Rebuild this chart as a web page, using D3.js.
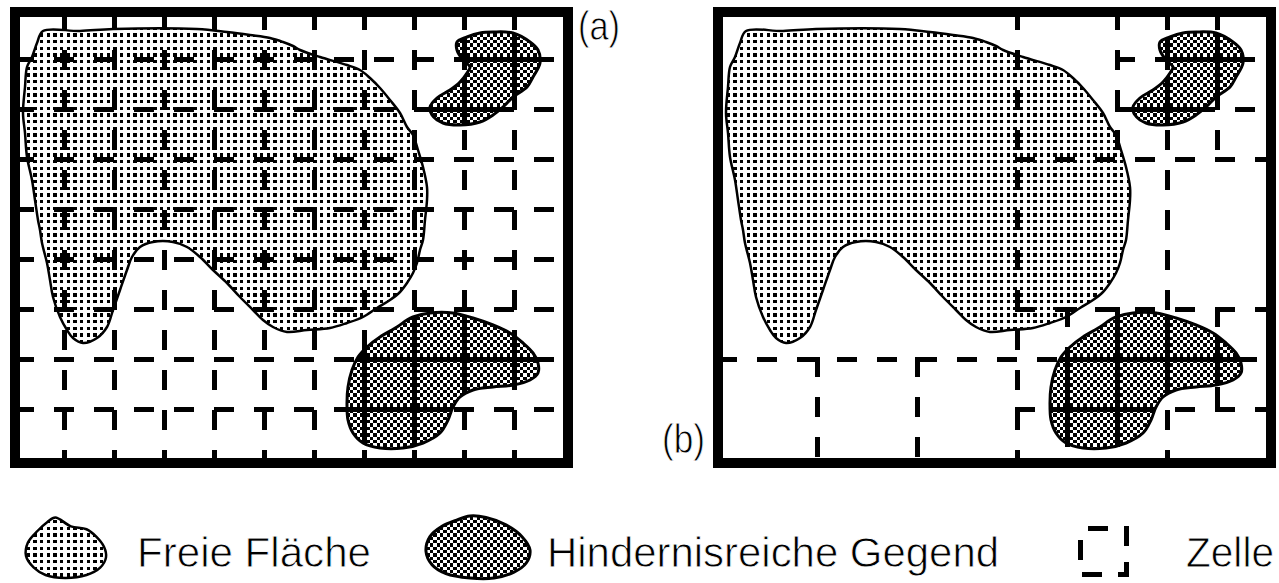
<!DOCTYPE html>
<html><head><meta charset="utf-8">
<script src="https://cdn.jsdelivr.net/npm/d3@7"></script>
<style>html,body{margin:0;padding:0;background:#fff;}svg{display:block}</style>
</head><body>
<svg id="chart" width="1279" height="583"></svg>
<script>
// ---------- data (panel-relative pixel units) ----------
const colLines = [0,1,2,3,4,5,6,7,8,9];   // vertical grid line indices
const rowLines = [0,1,2,3,4,5,6,7];       // horizontal grid line indices
// panel (b): adaptive cells -> [direction, line index, from, to]
const cellSegmentsB = [
  ["h",6,"L","R"],["h",2,5,"R"],["h",0,7,"R"],["h",1,7,"R"],["h",5,5,"R"],["h",7,5,"R"],
  ["v",5,"T","B"],["v",1,6,"B"],["v",3,6,"B"],["v",7,"T",2],["v",8,"T","B"],
  ["v",9,"T",2],["v",9,5,7],["v",6,5,"B"],["v",7,5,"B"]
];
const freeArea = [[23,14],[60,14],[93,12],[177,12],[207,15],[230,18],[250,21],[263,25],[273,29],[280,33],
  [300,40],[327,48],[340,53],[350,61],[360,71],[370,83],[380,96],[387,110],[393,118],[398,133],[403,150],
  [407,170],[407,183],[405,203],[403,223],[400,233],[397,246],[393,256],[387,266],[380,275],[370,283],
  [357,291],[343,300],[327,306],[310,311],[287,313],[267,315],[253,310],[243,303],[233,293],[220,280],
  [207,266],[193,253],[180,240],[167,230],[153,225],[133,225],[120,230],[112,240],[107,253],[100,273],
  [93,293],[87,310],[77,321],[63,326],[53,321],[47,313],[40,300],[33,280],[30,263],[27,246],[22,226],
  [20,213],[18,203],[15,183],[12,163],[7,140],[5,116],[3,96],[5,70],[7,50],[12,40],[17,26]];
const obstacleTop = [[473,15],[493,16],[510,25],[518,33],[520,46],[513,60],[507,70],[493,80],[483,90],
  [473,98],[460,105],[440,108],[423,106],[412,98],[410,90],[417,81],[430,73],[440,65],[447,56],[450,50],
  [443,43],[437,33],[437,25],[447,20],[460,16]];
const obstacleBottom = [[393,300],[410,296],[433,296],[453,301],[473,308],[490,316],[503,326],[513,336],
  [518,346],[518,356],[510,363],[493,368],[473,370],[453,373],[440,380],[433,390],[428,403],[420,416],
  [403,426],[383,431],[360,431],[343,426],[333,416],[328,403],[327,386],[328,370],[332,353],[338,340],
  [347,330],[360,320],[377,310],[387,303]];
// legend icon outlines (unit box)
const freeIcon = [[0.366,0.024],[0.561,0.167],[0.756,0.214],[0.878,0.333],[0.976,0.5],[1,0.667],[0.927,0.833],
  [0.756,0.952],[0.488,1],[0.244,0.952],[0.098,0.833],[0,0.643],[0.024,0.429],[0.146,0.238],[0.268,0.095]];
const obstacleIcon = [[0.423,0],[0.577,0.024],[0.769,0.143],[0.923,0.333],[1,0.548],[0.962,0.762],[0.846,0.905],
  [0.654,1],[0.423,1],[0.192,0.929],[0.058,0.786],[0,0.571],[0.038,0.333],[0.154,0.167],[0.288,0.071]];
const panelLabels = ["(a)","(b)"];
const legendLabels = ["Freie Fläche","Hindernisreiche Gegend","Zelle"];

// ---------- drawing ----------
const svg = d3.select("#chart");
svg.append("rect").attr("width",1279).attr("height",583).attr("fill","#fff");
const defs = svg.append("defs");
const B = [0,3,7,10,13,17,20];
const dots = defs.append("pattern").attr("id","dots").attr("patternUnits","userSpaceOnUse")
  .attr("width",20).attr("height",20);
[0,2,4].forEach(r=>[0,2,4].forEach(c=>{
  dots.append("rect").attr("x",B[c]).attr("y",B[r]).attr("width",B[c+1]-B[c]).attr("height",B[r+1]-B[r]).attr("fill","#000");
}));
const checker = defs.append("pattern").attr("id","checker").attr("patternUnits","userSpaceOnUse")
  .attr("width",20).attr("height",20);
checker.append("rect").attr("width",20).attr("height",20).attr("fill","#fff");
for(let r=0;r<6;r++)for(let c=0;c<6;c++) if((r+c)%2===0)
  checker.append("rect").attr("x",B[c]).attr("y",B[r]).attr("width",B[c+1]-B[c]).attr("height",B[r+1]-B[r]).attr("fill","#000");

const W = 543, H = 441;
const gx = d3.scaleLinear().domain([0,1]).range([44.5,94.5]);
const gy = d3.scaleLinear().domain([0,1]).range([42.5,92.5]);
function edgePos(v, dir){
  if(v==="L"||v==="T") return 0;
  if(v==="R") return W;
  if(v==="B") return H;
  return dir==="h" ? gx(v) : gy(v);
}
const fullSegments = colLines.map(i=>["v",i,"T","B"]).concat(rowLines.map(j=>["h",j,"L","R"]));

const panels = [
  {ox:20, oy:17, segs:fullSegments, label:panelLabels[0]},
  {ox:723, oy:17, segs:cellSegmentsB, label:panelLabels[1]}
];

panels.forEach((p,pi)=>{
  const x = d3.scaleLinear().domain([0,W]).range([p.ox,p.ox+W]);
  const y = d3.scaleLinear().domain([0,H]).range([p.oy,p.oy+H]);
  const blob = d3.line().curve(d3.curveCatmullRomClosed.alpha(0.5)).x(d=>x(d[0])).y(d=>y(d[1]));
  const g = svg.append("g");
  const clipId = "inner"+pi;
  defs.append("clipPath").attr("id",clipId).append("rect")
    .attr("x",x(0)).attr("y",y(0)).attr("width",W).attr("height",H);
  const obsClip = "obs"+pi;
  const oc = defs.append("clipPath").attr("id",obsClip);
  [obstacleTop,obstacleBottom].forEach(o=>oc.append("path").attr("d",blob(o)));

  const segGeom = s=>{
    const [dir,at,from,to] = s;
    const a = edgePos(from,dir), b = edgePos(to,dir);
    const a2 = (typeof from==="number") ? a-2.5 : a;
    const b2 = (typeof to==="number") ? b+2.5 : b;
    const off = (typeof from==="number") ? 0 : (dir==="h"?6:7);
    if(dir==="h") return {x1:x(a2),x2:x(b2),y1:y(gy(at)),y2:y(gy(at)),off};
    return {x1:x(gx(at)),x2:x(gx(at)),y1:y(a2),y2:y(b2),off};
  };
  const geo = p.segs.map(segGeom);
  g.append("g").attr("clip-path",`url(#${clipId})`).selectAll("line").data(geo).join("line")
    .attr("x1",d=>d.x1).attr("x2",d=>d.x2).attr("y1",d=>d.y1).attr("y2",d=>d.y2)
    .attr("stroke","#000").attr("stroke-width",5).attr("stroke-dasharray","20 20")
    .attr("stroke-dashoffset",d=>d.off).attr("shape-rendering","crispEdges");
  g.append("path").attr("d",blob(freeArea)).attr("fill","url(#dots)")
    .attr("stroke","#000").attr("stroke-width",2.5);
  [obstacleTop,obstacleBottom].forEach(o=>{
    g.append("path").attr("d",blob(o)).attr("fill","url(#checker)").attr("stroke","#000").attr("stroke-width",3);
  });
  g.append("g").attr("clip-path",`url(#${obsClip})`).selectAll("line").data(geo).join("line")
    .attr("x1",d=>d.x1).attr("x2",d=>d.x2).attr("y1",d=>d.y1).attr("y2",d=>d.y2)
    .attr("stroke","#000").attr("stroke-width",5).attr("shape-rendering","crispEdges");
  g.append("rect").attr("x",x(0)-5).attr("y",y(0)-5).attr("width",W+10).attr("height",H+10)
    .attr("fill","none").attr("stroke","#000").attr("stroke-width",10).attr("shape-rendering","crispEdges");
});

const font = "'Liberation Sans', Arial, sans-serif";
function label(t, xx, yy, size, len){
  svg.append("text").attr("x",xx).attr("y",yy).attr("font-family",font).attr("font-size",size)
    .attr("textLength",len).attr("lengthAdjust","spacingAndGlyphs")
    .attr("fill","#000").attr("stroke","#fff").attr("stroke-width",0.8).text(t);
}
label(panelLabels[0], 578, 40, 40, 42);
label(panelLabels[1], 662, 453, 40, 43);

// legend
const iconLine = (x0,y0,w,h)=>d3.line().curve(d3.curveCatmullRomClosed.alpha(0.5))
  .x(d=>x0+d[0]*w).y(d=>y0+d[1]*h);
svg.append("path").attr("d",iconLine(26,516,80,62)(freeIcon)).attr("fill","url(#dots)")
  .attr("stroke","#000").attr("stroke-width",2.5);
svg.append("path").attr("d",iconLine(426,516,104,62)(obstacleIcon)).attr("fill","url(#checker)")
  .attr("stroke","#000").attr("stroke-width",3);
svg.append("rect").attr("x",1080).attr("y",528).attr("width",46).attr("height",46)
  .attr("fill","none").attr("stroke","#000").attr("stroke-width",5)
  .attr("stroke-dasharray","20 16").attr("stroke-dashoffset",-8).attr("shape-rendering","crispEdges");
label(legendLabels[0], 137, 567, 42, 234);
label(legendLabels[1], 547, 567, 42, 452);
label(legendLabels[2], 1186, 567, 42, 88);
</script>
</body></html>
